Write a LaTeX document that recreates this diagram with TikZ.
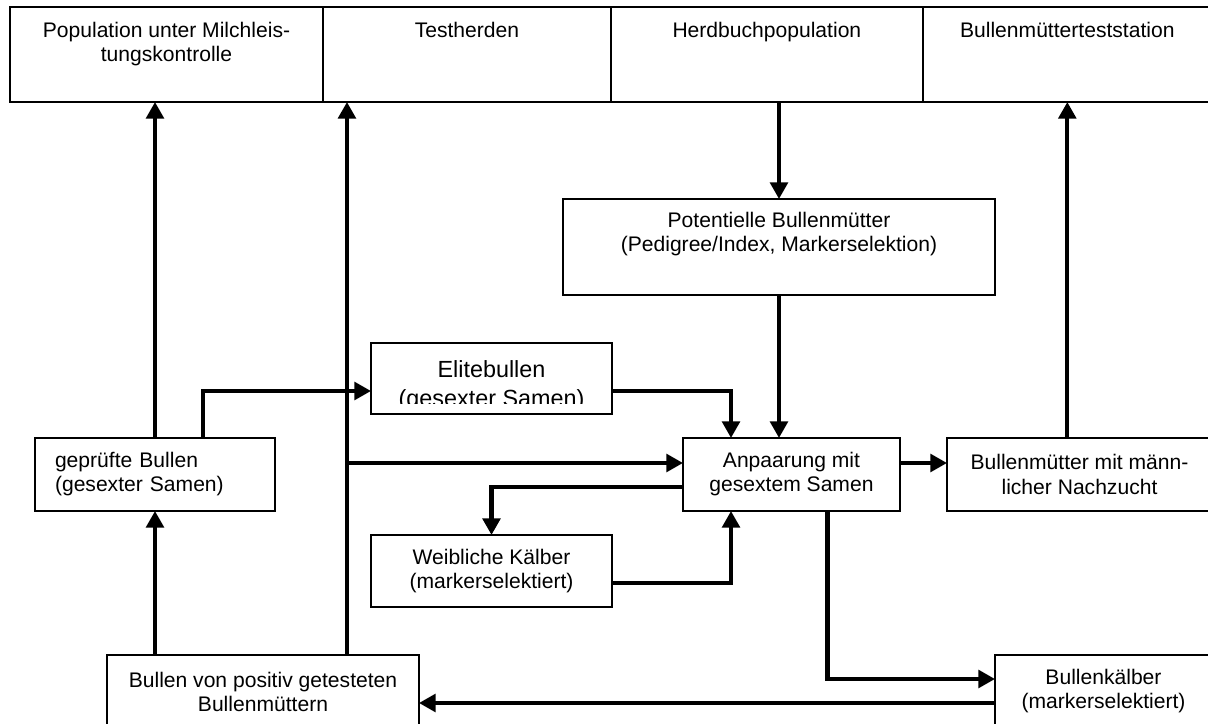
\documentclass[tikz,border=0pt]{standalone}
\usepackage{fontspec}
\setmainfont{Liberation Sans}
\usepackage{tikz}
\usetikzlibrary{shapes,arrows.meta,calc,positioning}
\tikzstyle{block} = [rectangle, draw, line width=1.2pt, align=center, inner sep=0pt, outer sep=0pt, font=\fontsize{12}{13.7}\selectfont]
\tikzstyle{topblock} = [block, minimum height=1.9cm]
\tikzstyle{boxtext} = [align=center, inner sep=0pt, font=\fontsize{12}{13.7}\selectfont]
\tikzstyle{line} = [draw, -{Triangle[length=9.5pt,width=10pt]}, line width=2.3pt]

\begin{document}
\begin{tikzpicture}[x=0.02cm, y=0.02cm]
\useasboundingbox (0,0) rectangle (1208,724);
\clip (0,0) rectangle (1208,724);

\node [topblock, minimum width=6.26cm] (pop) at (166.5,669.5) {};
\node [topblock, minimum width=5.76cm, right=0pt of pop] (test) {};
\node [topblock, minimum width=6.24cm, right=0pt of test] (herd) {};
\node [topblock, minimum width=5.78cm, right=0pt of herd] (bmts) {};
\node [boxtext, below=0.3cm of pop.north] (pop-t) {Population unter Milchleis-\\tungskontrolle};
\node [boxtext, below=0.3cm of test.north] (test-t) {Testherden};
\node [boxtext, below=0.3cm of herd.north] (herd-t) {Herdbuchpopulation};
\node [boxtext, below=0.3cm of bmts.north] (bmts-t) {Bullenmütterteststation};

\node [block, minimum width=8.64cm, minimum height=1.92cm] (pot) at (779,477) {};
\node [boxtext] (pot-t) at ($(pot.center)+(0,12.5)$) {Potentielle Bullenmütter\\(Pedigree/Index, Markerselektion)};

\node [block, minimum width=4.82cm, minimum height=1.42cm] (elite) at (491.5,345.5) {};
\begin{scope}
\clip (elite.north west) rectangle ($(elite.south east)+(0,10)$);
\node [boxtext, font=\fontsize{13.3}{16.5}\selectfont] (elite-t) at ($(elite.center)+(0,-7)$) {Elitebullen\\(gesexter Samen)};
\end{scope}

\node [block, text width=4cm, align=left, minimum width=4.8cm, minimum height=1.46cm] (geprueft) at (155,249.5) {geprüfte Bullen\\(gesexter Samen)};
\node [block, minimum width=4.34cm, minimum height=1.46cm] (anp) at (791.5,249.5) {Anpaarung mit\\gesextem Samen};
\node [block, minimum width=5.3cm, minimum height=1.46cm] (bmmn) at (1079.5,249.5) {Bullenmütter mit männ-\\licher Nachzucht};
\node [block, minimum width=4.82cm, minimum height=1.44cm] (weib) at (491.5,153) {Weibliche Kälber\\(markerselektiert)};
\node [block, minimum width=6.24cm, minimum height=1.46cm] (bvp) at (263,32.5) {Bullen von positiv getesteten\\Bullenmüttern};
\node [block, minimum width=4.34cm, minimum height=1.46cm] (bk) at (1103.5,32.5) {Bullenkälber\\(markerselektiert)};

\coordinate (trunk) at ($(bvp.north east)+(-72,0)$);
\coordinate (anpin) at ($(anp.west)+(0,11.5)$);

\path [line] (geprueft.north) -- (geprueft.north |- pop.south);
\path [line] ($(geprueft.north)+(48,0)$) |- ($(elite.west)+(0,-12.5)$);
\path [line] (geprueft.south |- bvp.north) -- (geprueft.south);
\path [line] (trunk) -- (trunk |- test.south);
\path [line] (trunk |- anpin) -- (anpin);
\path [line] ($(elite.east)+(0,-12.5)$) -| ($(anp.north west)+(48,0)$);
\path [line] (pot.north |- herd.south) -- (pot.north);
\path [line] (pot.south) -- (pot.south |- anp.north);
\path [line] ($(anp.west)+(0,-12.5)$) -| (weib.north);
\path [line] ($(weib.east)+(0,-12)$) -| ($(anp.south west)+(48,0)$);
\path [line] ($(anp.east)+(0,11.5)$) -- ($(bmmn.west)+(0,11.5)$);
\path [line] (bmts.south |- bmmn.north) -- (bmts.south);
\path [line] ($(anp.south)+(36,0)$) |- ($(bk.west)+(0,12.5)$);
\path [line] ($(bk.west)+(0,-11.5)$) -- ($(bvp.east)+(0,-11.5)$);

\end{tikzpicture}
\end{document}
